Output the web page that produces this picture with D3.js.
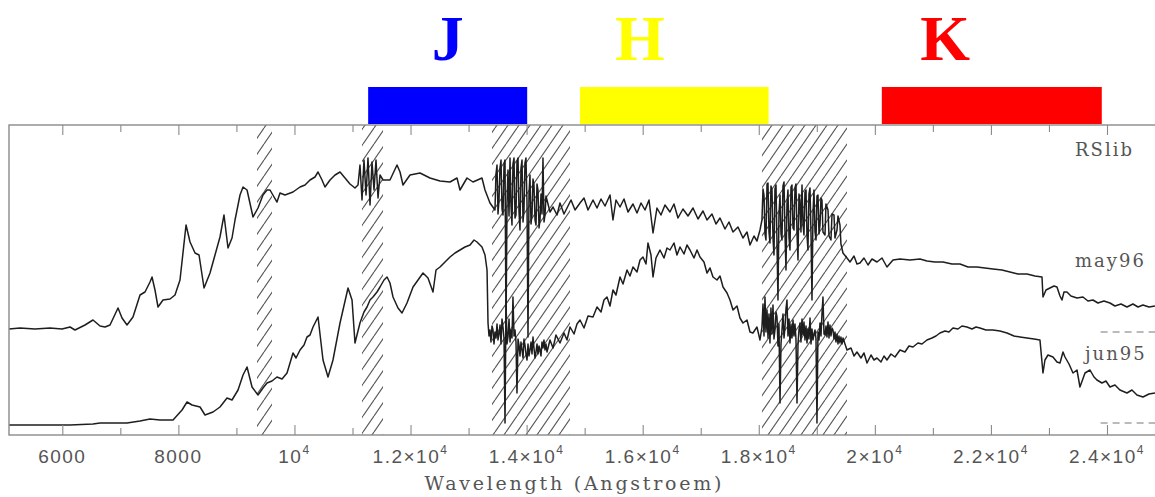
<!DOCTYPE html>
<html>
<head>
<meta charset="utf-8">
<script src="https://cdn.jsdelivr.net/npm/d3@7"></script>
<style>
  html, body { margin: 0; padding: 0; background: #fff; }
  svg { display: block; }
</style>
</head>
<body>
<svg id="chart" width="1155" height="497"></svg>
<script>
// Photometric bands shown above the spectrum (wavelengths in Angstroem)
const bandNames = ["J", "H", "K"];
const bandStart = [11270, 14920, 20120];
const bandEnd = [14010, 18170, 23910];
const bandColors = ["#0000ff", "#ffff00", "#ff0000"];
const bandLabelWave = [12640, 15950, 21210];

// Telluric absorption windows (hatched)
const maskStart = [9355, 11164, 13404, 18055];
const maskEnd = [9613, 11526, 14748, 19520];

// Axis ticks
const majorTicks = [6000, 8000, 10000, 12000, 14000, 16000, 18000, 20000, 22000, 24000];
const tickMain = ["6000", "8000", "10", "1.2\u00d710", "1.4\u00d710", "1.6\u00d710", "1.8\u00d710", "2\u00d710", "2.2\u00d710", "2.4\u00d710"];
const tickSup = ["", "", "4", "4", "4", "4", "4", "4", "4", "4"];
const minorTicks = [7000, 9000, 11000, 13000, 15000, 17000, 19000, 21000, 23000];

// Series labels and zero-level markers
const seriesLabels = ["RSlib", "may96", "jun95"];
const zeroLevels = [1.02, 0.11];

// Spectrum observed may96: [wavelength (A), relative flux]
const may96 = [
  [5082,1.05],[5272,1.06],[5530,1.05],[5788,1.06],[5995,1.05],[6133,1.07],[6219,1.04],[6391,1.09],
  [6529,1.14],[6650,1.08],[6736,1.07],[6822,1.09],[6960,1.26],[7029,1.16],[7115,1.09],[7218,1.17],
  [7339,1.39],[7425,1.42],[7511,1.52],[7546,1.57],[7597,1.44],[7649,1.27],[7735,1.34],[7856,1.35],
  [7942,1.39],[8028,1.54],[8132,2.09],[8201,1.92],[8287,1.81],[8356,1.79],[8442,1.46],[8545,1.61],
  [8631,1.79],[8717,1.97],[8786,2.19],[8855,1.86],[8924,1.96],[8976,2.14],[9062,2.39],[9114,2.47],
  [9183,2.44],[9286,2.17],[9372,2.26],[9458,2.39],[9527,2.44],[9579,2.44],[9648,2.37],[9699,2.32],
  [9751,2.41],[9837,2.39],[9975,2.42],[10096,2.47],[10182,2.49],[10268,2.54],[10354,2.57],[10406,2.62],
  [10475,2.54],[10526,2.47],[10613,2.54],[10699,2.59],[10785,2.62],[10871,2.56],[10957,2.50],[11043,2.46],
  [11095,2.49],[11129,2.69],[11164,2.34],[11198,2.74],[11233,2.39],[11267,2.76],[11302,2.29],[11336,2.72],
  [11371,2.44],[11405,2.74],[11440,2.36],[11474,2.59],[11526,2.54],[11646,2.54],[11767,2.69],[11819,2.62],
  [11870,2.49],[11991,2.59],[12163,2.61],[12335,2.56],[12508,2.53],[12680,2.52],[12801,2.56],[12852,2.44],
  [12973,2.56],[13076,2.52],[13231,2.56],[13283,2.44],[13369,2.31],
  [13455,2.24],[13472,2.60],[13490,2.69],[13507,2.20],[13524,2.34],[13541,2.66],[13559,2.74],[13576,2.25],
  [13593,2.19],[13611,2.70],[13628,2.74],[13645,1.04],[13662,2.30],[13679,2.64],[13697,2.18],[13714,2.76],
  [13731,2.28],[13748,2.09],[13765,2.70],[13783,2.76],[13800,2.16],[13817,2.19],[13834,2.72],[13852,2.76],
  [13869,2.22],[13886,2.04],[13903,2.66],[13921,2.74],[13938,2.12],[13955,2.24],[13972,2.71],[13989,2.76],
  [14007,2.30],[14024,0.97],[14041,2.40],[14058,2.59],[14076,2.10],[14093,2.19],[14110,2.55],[14127,2.49],
  [14145,2.14],[14162,2.09],[14179,2.50],[14196,2.44],[14214,2.06],[14231,2.14],[14248,2.40],[14265,2.20],
  [14282,2.76],[14300,2.12],[14317,2.19],[14334,2.38],[14351,2.34],
  [14403,2.22],[14455,2.27],[14524,2.19],[14575,2.31],[14644,2.20],[14696,2.26],[14765,2.34],[14834,2.24],
  [14920,2.31],[14989,2.36],[15058,2.24],[15144,2.34],[15213,2.26],[15282,2.35],[15351,2.28],[15437,2.39],
  [15488,2.14],[15540,2.34],[15609,2.27],[15678,2.35],[15747,2.22],[15833,2.30],[15902,2.21],[15971,2.31],
  [16040,2.24],[16109,2.34],[16178,2.01],[16246,2.26],[16315,2.19],[16384,2.29],[16470,2.22],[16539,2.30],
  [16608,2.16],[16694,2.25],[16781,2.18],[16867,2.26],[16953,2.15],[17039,2.23],[17108,2.14],[17194,2.20],
  [17263,2.10],[17332,2.16],[17418,2.05],[17487,2.12],[17556,2.02],[17642,2.07],[17728,1.96],[17797,2.02],
  [17849,1.89],[17918,1.98],[17969,1.93],[18021,2.04],
  [18055,2.14],[18073,2.45],[18090,2.39],[18107,2.00],[18124,1.94],[18142,2.50],[18159,2.51],[18176,2.02],
  [18193,1.91],[18210,2.48],[18228,2.44],[18245,1.96],[18262,1.79],[18279,2.45],[18297,2.49],[18314,1.90],
  [18331,1.34],[18348,2.20],[18366,2.39],[18383,2.00],[18400,1.94],[18417,2.48],[18435,2.52],[18452,2.00],
  [18469,1.64],[18486,2.30],[18503,2.44],[18521,1.96],[18538,1.84],[18555,2.47],[18572,2.49],[18590,2.06],
  [18607,2.04],[18624,2.46],[18641,2.50],[18659,2.00],[18676,1.74],[18693,2.40],[18710,2.34],[18727,2.02],
  [18745,2.49],[18762,2.10],[18779,1.99],[18796,2.42],[18814,2.44],[18831,1.98],[18848,1.84],[18865,2.40],
  [18883,2.46],[18900,2.00],[18917,1.34],[18934,2.20],[18951,2.44],[18969,2.02],[18986,1.94],[19003,2.38],
  [19020,2.39],[19038,2.00],[19055,2.09],[19072,2.36],[19089,2.34],[19106,2.02],[19141,1.99],[19158,2.30],
  [19193,2.24],[19210,1.98],[19244,1.94],[19262,2.20],[19296,2.19],[19313,1.96],[19348,2.04],[19365,2.18],
  [19399,2.09],[19416,1.90],[19451,1.81],
  [19520,1.76],[19572,1.72],[19641,1.78],[19692,1.70],[19744,1.71],[19813,1.76],
  [19882,1.69],[19951,1.75],[20037,1.72],[20123,1.76],[20209,1.67],[20313,1.74],[20433,1.75],[20605,1.74],
  [20778,1.75],[20898,1.73],[21036,1.72],[21174,1.72],[21329,1.70],[21467,1.70],[21605,1.67],[21760,1.67],
  [21898,1.66],[22035,1.65],[22190,1.64],[22328,1.62],[22466,1.60],[22621,1.60],[22759,1.58],[22880,1.57],
  [22897,1.37],[22949,1.44],[23017,1.46],[23086,1.48],[23138,1.47],[23190,1.38],[23224,1.34],[23259,1.42],
  [23310,1.42],[23379,1.38],[23483,1.36],[23586,1.37],[23672,1.33],[23758,1.34],[23844,1.31],[23948,1.33],
  [24051,1.31],[24137,1.28],[24241,1.30],[24344,1.27],[24447,1.30],[24534,1.27],[24620,1.29],[24723,1.27],
  [24826,1.28]
];

// Spectrum observed jun95: [wavelength (A), relative flux]
const jun95 = [
  [5082,0.09],[5616,0.09],[6133,0.09],[6529,0.10],[6650,0.11],[7115,0.11],[7339,0.13],[7511,0.15],
  [7684,0.14],[7908,0.14],[8063,0.24],[8149,0.32],[8235,0.29],[8373,0.27],[8459,0.19],[8597,0.22],
  [8717,0.27],[8838,0.36],[8924,0.34],[9028,0.44],[9114,0.59],[9183,0.67],[9269,0.47],[9372,0.39],
  [9458,0.46],[9527,0.51],[9613,0.53],[9699,0.57],[9786,0.55],[9872,0.61],[9975,0.81],[10027,0.76],
  [10096,0.84],[10165,0.89],[10216,0.97],[10268,0.99],[10320,1.07],[10406,1.17],[10492,0.74],[10578,0.57],
  [10664,0.74],[10785,1.11],[10923,1.46],[10992,1.34],[11043,0.91],[11129,1.11],[11198,1.22],[11250,1.27],
  [11302,1.34],[11353,1.37],[11422,1.42],[11474,1.47],[11543,1.54],[11595,1.57],[11646,1.51],[11698,1.37],
  [11784,1.26],[11853,1.21],[11939,1.31],[12043,1.47],[12129,1.54],[12215,1.61],[12301,1.56],[12387,1.42],
  [12439,1.64],[12508,1.67],[12594,1.72],[12680,1.77],[12766,1.81],[12852,1.84],[12938,1.87],[13025,1.89],
  [13094,1.94],[13145,1.92],[13231,1.87],[13283,1.79],[13318,1.64],
  [13335,1.11],[13352,0.98],[13369,1.04],[13386,0.92],[13404,1.08],[13421,1.04],[13438,0.90],[13455,1.02],
  [13473,0.96],[13490,1.10],[13507,0.94],[13524,1.00],[13542,1.09],[13559,0.90],[13576,1.15],[13593,1.07],
  [13611,0.95],[13628,0.11],[13645,1.34],[13662,0.90],[13679,0.97],[13697,1.15],[13714,0.92],[13731,1.04],
  [13748,0.96],[13765,1.37],[13783,0.98],[13800,1.04],[13817,0.92],[13834,0.41],[13852,0.95],[13869,0.89],
  [13886,0.78],[13903,0.92],[13921,0.84],[13938,0.76],[13955,0.95],[13972,0.89],[13989,0.80],[14007,0.74],
  [14024,0.90],[14041,0.78],[14058,0.84],[14076,0.92],[14093,0.80],[14110,0.97],[14127,0.86],[14145,0.76],
  [14162,0.82],[14179,0.90],[14196,0.80],[14214,0.88],[14231,0.84],[14248,0.78],[14265,0.92],[14282,0.86],
  [14299,0.94],[14317,0.84],[14334,0.90],[14351,0.82],
  [14403,0.94],[14455,0.86],[14506,0.99],
  [14575,0.91],[14644,1.01],[14696,0.94],[14748,1.07],[14817,1.00],[14868,1.10],[14920,1.14],[14989,1.06],
  [15058,1.18],[15144,1.17],[15213,1.27],[15282,1.22],[15333,1.34],[15385,1.37],[15437,1.28],[15488,1.44],
  [15540,1.39],[15609,1.57],[15661,1.50],[15730,1.64],[15781,1.58],[15833,1.67],[15902,1.62],[15954,1.74],
  [16005,1.77],[16057,1.70],[16091,1.91],[16143,1.79],[16178,1.57],[16229,1.76],[16298,1.84],[16367,1.76],
  [16419,1.86],[16470,1.84],[16539,1.91],[16591,1.79],[16643,1.87],[16712,1.80],[16763,1.89],[16815,1.84],
  [16884,1.76],[16936,1.84],[16987,1.77],[17056,1.72],[17108,1.61],[17160,1.66],[17211,1.57],[17280,1.54],
  [17332,1.58],[17384,1.47],[17453,1.41],[17504,1.34],[17556,1.24],[17625,1.28],[17676,1.16],[17728,1.11],
  [17797,1.14],[17849,1.02],[17900,1.01],[17969,1.07],[18021,0.94],
  [18055,1.07],[18073,1.30],[18090,0.98],[18107,1.37],[18124,1.02],[18142,1.24],[18159,0.96],[18176,1.20],
  [18193,0.91],[18210,1.26],[18228,1.00],[18245,1.29],[18262,0.95],[18279,1.04],[18297,1.22],[18314,1.17],
  [18331,0.88],[18348,1.10],[18366,0.31],[18383,0.90],[18400,1.04],[18417,1.20],[18435,0.96],[18452,1.07],
  [18469,1.25],[18486,1.34],[18503,0.98],[18521,1.15],[18538,0.91],[18555,1.10],[18572,0.96],[18590,1.14],
  [18607,0.98],[18624,1.10],[18641,0.95],[18659,0.31],[18676,0.90],[18693,1.04],[18710,1.11],[18727,0.92],
  [18745,1.15],[18762,0.99],[18779,1.12],[18796,0.94],[18814,1.08],[18831,0.91],[18848,1.05],[18865,0.95],
  [18883,1.16],[18900,0.90],[18917,1.05],[18934,0.94],[18951,1.00],[18969,1.04],[18986,0.95],[19003,0.11],
  [19020,1.02],[19038,0.94],[19055,1.11],[19072,0.98],[19089,1.20],[19106,1.37],[19124,1.00],[19141,0.99],
  [19158,1.08],[19175,0.97],[19193,1.12],[19210,0.96],[19227,1.09],[19244,0.98],[19262,1.06],[19279,1.04],
  [19296,0.95],[19313,1.02],[19330,0.92],[19348,1.00],[19365,0.90],[19382,0.98],[19399,0.91],[19416,0.97],
  [19434,0.90],[19451,0.96],
  [19520,0.84],[19589,0.86],[19641,0.78],
  [19692,0.82],[19761,0.76],[19813,0.81],[19865,0.71],[19934,0.79],[19985,0.74],[20037,0.76],[20106,0.72],
  [20158,0.78],[20209,0.74],[20278,0.80],[20347,0.77],[20433,0.84],[20519,0.82],[20588,0.88],[20657,0.87],
  [20743,0.91],[20812,0.90],[20898,0.94],[20984,0.96],[21053,0.98],[21122,1.01],[21208,1.03],[21277,1.02],
  [21346,1.06],[21432,1.05],[21501,1.08],[21587,1.07],[21674,1.05],[21743,1.07],[21811,1.06],[21915,1.04],
  [22035,1.04],[22156,1.03],[22277,1.01],[22397,0.98],[22501,0.97],[22621,0.96],[22742,0.95],[22845,0.94],
  [22897,0.61],[22931,0.74],[22983,0.79],[23069,0.77],[23138,0.72],[23190,0.71],[23242,0.82],[23276,0.77],
  [23345,0.70],[23414,0.61],[23483,0.64],[23534,0.47],[23621,0.61],[23707,0.64],[23776,0.57],[23827,0.54],
  [23913,0.51],[23982,0.53],[24051,0.47],[24137,0.49],[24223,0.44],[24344,0.41],[24430,0.44],[24516,0.39],
  [24620,0.37],[24723,0.40],[24826,0.41]
];

const svg = d3.select("#chart");
const frame = { left: 9, top: 125, right: 1162, bottom: 435 };

const x = d3.scaleLinear().domain([6000, 24000]).range([62.3, 1107]);
const y = d3.scaleLinear().domain([0, 3.1]).range([434, 124]);

const defs = svg.append("defs");
defs.append("clipPath").attr("id", "plotClip")
  .append("rect")
  .attr("x", frame.left).attr("y", frame.top)
  .attr("width", frame.right - frame.left).attr("height", frame.bottom - frame.top);

// Diagonal hatching for the absorption windows
const hatch = defs.append("pattern")
  .attr("id", "hatch")
  .attr("patternUnits", "userSpaceOnUse")
  .attr("width", 11).attr("height", 16);
[[0, 16, 11, 0], [-11, 16, 0, 0], [11, 16, 22, 0]].forEach(s => {
  hatch.append("line")
    .attr("x1", s[0]).attr("y1", s[1]).attr("x2", s[2]).attr("y2", s[3])
    .attr("stroke", "#555").attr("stroke-width", 1.1);
});

// Band bars and labels
const bands = bandNames.map((n, i) => ({ name: n, s: bandStart[i], e: bandEnd[i], c: bandColors[i], lw: bandLabelWave[i] }));
svg.append("g").selectAll("rect").data(bands).join("rect")
  .attr("x", d => x(d.s)).attr("y", 87)
  .attr("width", d => x(d.e) - x(d.s)).attr("height", 37)
  .attr("fill", d => d.c);
svg.append("g").selectAll("text").data(bands).join("text")
  .attr("x", d => x(d.lw)).attr("y", 60)
  .attr("text-anchor", "middle")
  .attr("font-family", "'Liberation Serif', 'DejaVu Serif', serif")
  .attr("font-weight", "bold")
  .attr("font-size", 64)
  .attr("fill", d => d.c)
  .text(d => d.name);

// Plot body
const plot = svg.append("g").attr("clip-path", "url(#plotClip)");

plot.append("g").selectAll("rect")
  .data(maskStart.map((s, i) => [s, maskEnd[i]]))
  .join("rect")
  .attr("x", d => x(d[0])).attr("y", frame.top)
  .attr("width", d => x(d[1]) - x(d[0])).attr("height", frame.bottom - frame.top)
  .attr("fill", "url(#hatch)");

const line = d3.line().x(d => x(d[0])).y(d => y(d[1]));
[may96, jun95].forEach(series => {
  plot.append("path")
    .datum(series)
    .attr("d", line)
    .attr("fill", "none")
    .attr("stroke", "#1e1e1e")
    .attr("stroke-width", 1.5)
    .attr("stroke-linejoin", "round");
});

plot.append("g").selectAll("line").data(zeroLevels).join("line")
  .attr("x1", x(23890)).attr("x2", x(25200))
  .attr("y1", d => y(d)).attr("y2", d => y(d))
  .attr("stroke", "#777").attr("stroke-width", 1)
  .attr("stroke-dasharray", "7,5");

// Frame
svg.append("rect")
  .attr("x", frame.left).attr("y", frame.top)
  .attr("width", frame.right - frame.left).attr("height", frame.bottom - frame.top)
  .attr("fill", "none").attr("stroke", "#8a8a8a").attr("stroke-width", 1.4);

// Tick marks on bottom (pointing up) and top (pointing down)
function ticks(axisFn, yPos, values, size) {
  const g = svg.append("g").attr("transform", `translate(0,${yPos})`)
    .call(axisFn(x).tickValues(values).tickSize(size).tickSizeOuter(0).tickFormat(""));
  g.select(".domain").remove();
  g.selectAll(".tick line").attr("stroke", "#8a8a8a").attr("stroke-width", 1.1);
}
ticks(d3.axisTop, frame.bottom, majorTicks, 10);
ticks(d3.axisTop, frame.bottom, minorTicks, 7);
ticks(d3.axisBottom, frame.top, majorTicks, 10);
ticks(d3.axisBottom, frame.top, minorTicks, 7);

// Tick labels
const tl = svg.append("g")
  .attr("font-family", "'Liberation Sans', 'DejaVu Sans', sans-serif")
  .attr("font-size", 19)
  .attr("fill", "#555")
  .attr("letter-spacing", 1.5)
  .selectAll("text")
  .data(majorTicks.map((v, i) => ({ v, m: tickMain[i], s: tickSup[i] })))
  .join("text")
  .attr("x", d => x(d.v)).attr("y", 463)
  .attr("text-anchor", "middle");
tl.append("tspan").text(d => d.m);
tl.filter(d => d.s).append("tspan")
  .attr("dy", -9).attr("font-size", 12)
  .text(d => d.s);

// Axis title
svg.append("text")
  .attr("x", 573).attr("y", 490)
  .attr("text-anchor", "middle")
  .attr("font-family", "'DejaVu Serif', serif")
  .attr("font-size", 19)
  .attr("fill", "#555")
  .attr("textLength", 297)
  .attr("lengthAdjust", "spacing")
  .text("Wavelength (Angstroem)");

// Series labels
const labelPos = [[1075, 156], [1075, 267], [1085, 360]];
svg.append("g")
  .attr("font-family", "'DejaVu Serif', serif")
  .attr("font-size", 18)
  .attr("fill", "#555")
  .attr("letter-spacing", 2)
  .selectAll("text").data(seriesLabels).join("text")
  .attr("x", (d, i) => labelPos[i][0]).attr("y", (d, i) => labelPos[i][1])
  .text(d => d);
</script>
</body>
</html>
